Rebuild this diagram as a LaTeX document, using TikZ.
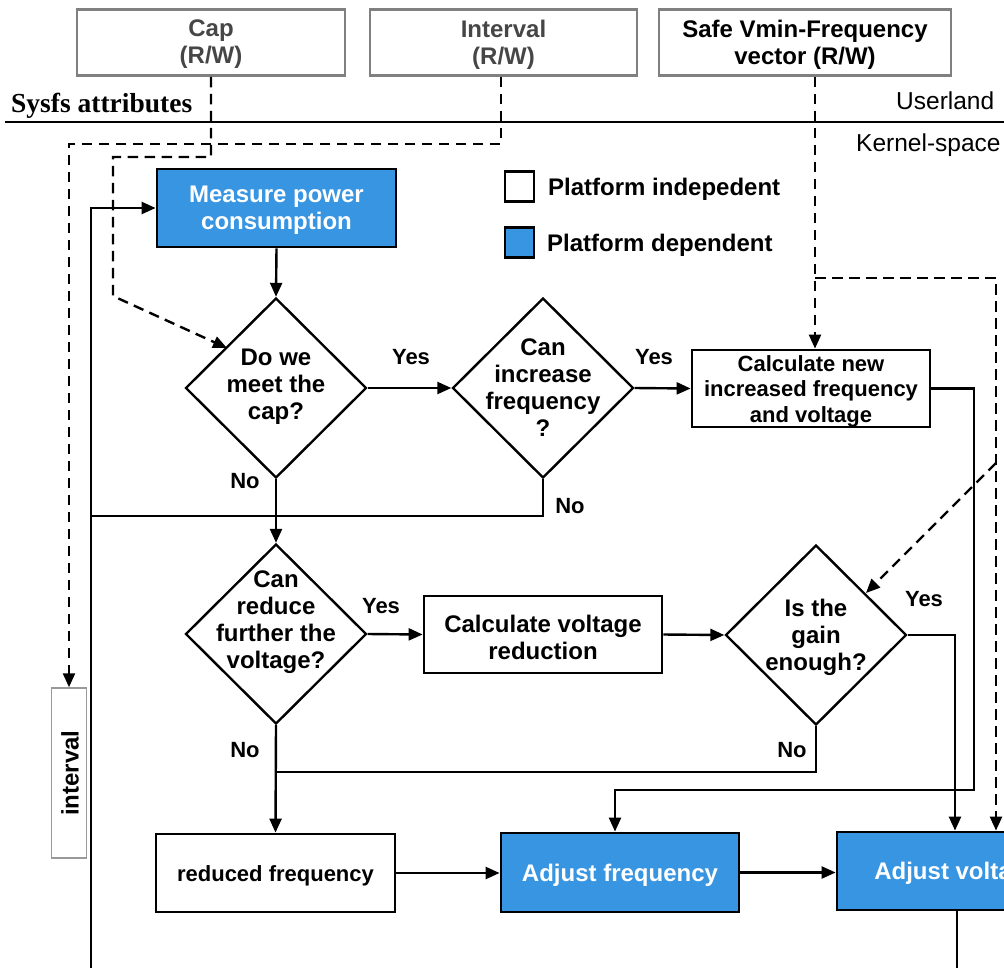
\documentclass[tikz,border=0pt]{standalone}
\usepackage{fontspec}
\setmainfont{Liberation Sans}
\newfontfamily\serifb{Liberation Serif}
\usetikzlibrary{shapes.geometric,arrows.meta}
\definecolor{pblue}{RGB}{56,149,226}
\definecolor{boxgray}{RGB}{128,128,128}
\definecolor{txtgray}{RGB}{70,70,70}
\begin{document}
\begin{tikzpicture}[x=1pt,y=-1pt,
  every node/.style={inner sep=0pt, align=center, font=\fontsize{24}{27}\selectfont\bfseries},
  tip/.style={-{Triangle[length=14pt,width=12pt]}},
  conn/.style={line width=2.4pt, tip},
  plainline/.style={line width=2.4pt},
  dashline/.style={line width=2.4pt, dash pattern=on 10.5pt off 6.5pt},
  bluebox/.style={draw, line width=2.8pt, fill=pblue},
  whitebox/.style={draw, line width=2.8pt, fill=white},
  topbox/.style={draw=boxgray, line width=2.8pt, fill=white},
  dia/.style={draw, diamond, line width=2.4pt, minimum width=181pt, minimum height=180pt},
  lbl/.style={font=\fontsize{22}{24}\selectfont\bfseries},
  small/.style={font=\fontsize{22}{25.5}\selectfont\bfseries},
]
\clip (0,0) rectangle (1004,967);
\fill[white] (0,0) rectangle (1004,967);

% top attribute boxes
\node[topbox, minimum width=268pt, minimum height=66pt] (cap) at (211,42.5) {};
\node[text=txtgray] (capt) at (211,44.5) {Cap\\(R/W)};
\node[topbox, minimum width=267pt, minimum height=66pt] (iv) at (503.5,42.5) {};
\node[text=txtgray] (ivt) at (503.5,44.5) {Interval\\(R/W)};
\node[topbox, minimum width=292pt, minimum height=66pt] (sv) at (805,42.5) {};
\node (svt) at (805,44.5) {Safe Vmin-Frequency\\vector (R/W)};

% separator and labels
\coordinate (ul) at (5,122);
\coordinate (ur) at (1010,122);
\draw[line width=2.4pt] (ul) -- (ur);
\node[anchor=base west, font={\serifb\fontsize{27.5}{29}\selectfont\bfseries}] (sysfs) at (11,112) {Sysfs attributes};
\node[anchor=west, font=\fontsize{24.5}{27}\selectfont] (user) at (896,101) {Userland};
\node[anchor=west, font=\fontsize{24.5}{27}\selectfont] (kern) at (856,145) {Kernel-space};

% legend
\node[draw, line width=2.4pt, fill=white, minimum width=29pt, minimum height=30pt] (lg1) at (519.5,186.5) {};
\node[anchor=west] (lt1) at (548,189) {Platform indepedent};
\node[draw, line width=2.4pt, fill=pblue, minimum width=29pt, minimum height=30pt] (lg2) at (519.5,242.5) {};
\node[anchor=west] (lt2) at (547,245) {Platform dependent};

% process nodes
\node[bluebox, minimum width=239pt, minimum height=78pt] (mp) at (276.5,208) {};
\node[text=white] (mpt) at (276.5,210.5) {Measure power\\consumption};
\node[dia] (d1) at (276,388) {};
\node (d1t) at (276,387) {Do we\\meet the\\cap?};
\node[dia] (d2) at (543,388) {};
\node (d2t) at (543,388) {Can\\increase\\frequency\\?};
\node[whitebox, minimum width=238pt, minimum height=77pt] (cn) at (811,388.5) {};
\node[small] (cnt) at (811,391) {Calculate new\\increased frequency\\and voltage};
\node[dia] (d3) at (276,634) {};
\node (d3t) at (276,622.5) {Can\\reduce\\further the\\voltage?};
\node[whitebox, minimum width=238pt, minimum height=77pt] (cv) at (543,634.5) {};
\node (cvt) at (543,637) {Calculate voltage\\reduction};
\node[dia] (d4) at (816,635) {};
\node (d4t) at (816,637) {Is the\\gain\\enough?};
\node[whitebox, minimum width=239pt, minimum height=78pt] (rf) at (275.5,873) {};
\node[small] (rft) at (275.5,875.5) {reduced frequency};
\node[bluebox, minimum width=238pt, minimum height=79pt] (af) at (620,872.5) {};
\node[text=white] (aft) at (620,875) {Adjust frequency};
\node[bluebox, minimum width=240pt, minimum height=78pt] (av) at (957,871) {};
\node[text=white] (avt) at (957,873.5) {Adjust voltage};
\node[draw=boxgray!80, line width=1.5pt, fill=white, minimum width=35pt, minimum height=170pt] (ib) at (69,773) {};
\node[rotate=90] (ibt) at (70,773) {interval};

% branch labels
\node[lbl] (y1) at (411,357) {Yes};
\node[lbl] (y2) at (654,357) {Yes};
\node[lbl] (y3) at (381,606) {Yes};
\node[lbl] (y4) at (924,599) {Yes};
\node[lbl] (n1) at (245,481) {No};
\node[lbl] (n2) at (570,506) {No};
\node[lbl] (n3) at (245,750) {No};
\node[lbl] (n4) at (792,750) {No};

% helper coordinates
\coordinate (j1) at (91,516);
\coordinate (lb) at (91,985);
\coordinate (j2) at (276,772);
\coordinate (c1) at (974,790);
\coordinate (b2) at (957,985);

% solid connectors
\draw[conn] (mp.south) -- (d1.north);
\draw[conn] (d1.east) -- (d2.west);
\draw[conn] (d2.east) -- (cn.west);
\draw[conn] (d1.south) -- (d3.north);
\draw[plainline] (d2.south) |- (j1);
\draw[conn] (lb) |- (mp.west);
\draw[conn] (d3.east) -- (cv.west);
\draw[conn] (cv.east) -- (d4.west);
\draw[conn] (d3.south) -- (rf.north);
\draw[plainline] (d4.south) |- (j2);
\draw[conn] (d4.east) -| ([xshift=-2pt]av.north);
\draw[conn] (cn.east) -| (c1) -| ([xshift=-5pt]af.north);
\draw[conn] (rf.east) -- (rf.east -| af.west);
\draw[conn] (af.east) -- (af.east -| av.west);
\draw[plainline] (av.south) -- (b2);

% dashed connectors
\coordinate (k1) at (113,157);
\coordinate (k2) at (113,296);
\coordinate (k3) at (227,348);
\draw[dashline, tip] (cap.south) |- (k1) -- (k2) -- (k3);
\coordinate (k4) at (69,144);
\draw[dashline, tip] ([xshift=-2.5pt]iv.south) |- (k4) -- (ib.north);
\draw[dashline, tip] ([xshift=10pt]sv.south) -- ([xshift=4pt]cn.north);
\coordinate (s1) at (815,278);
\coordinate (s2) at (996,278);
\draw[dashline, tip] (s1) -- (s2) -- (av.north -| s2);
\coordinate (s3) at (996,463);
\coordinate (s4) at (866,593);
\draw[dashline, tip] (s3) -- (s4);
\end{tikzpicture}
\end{document}
